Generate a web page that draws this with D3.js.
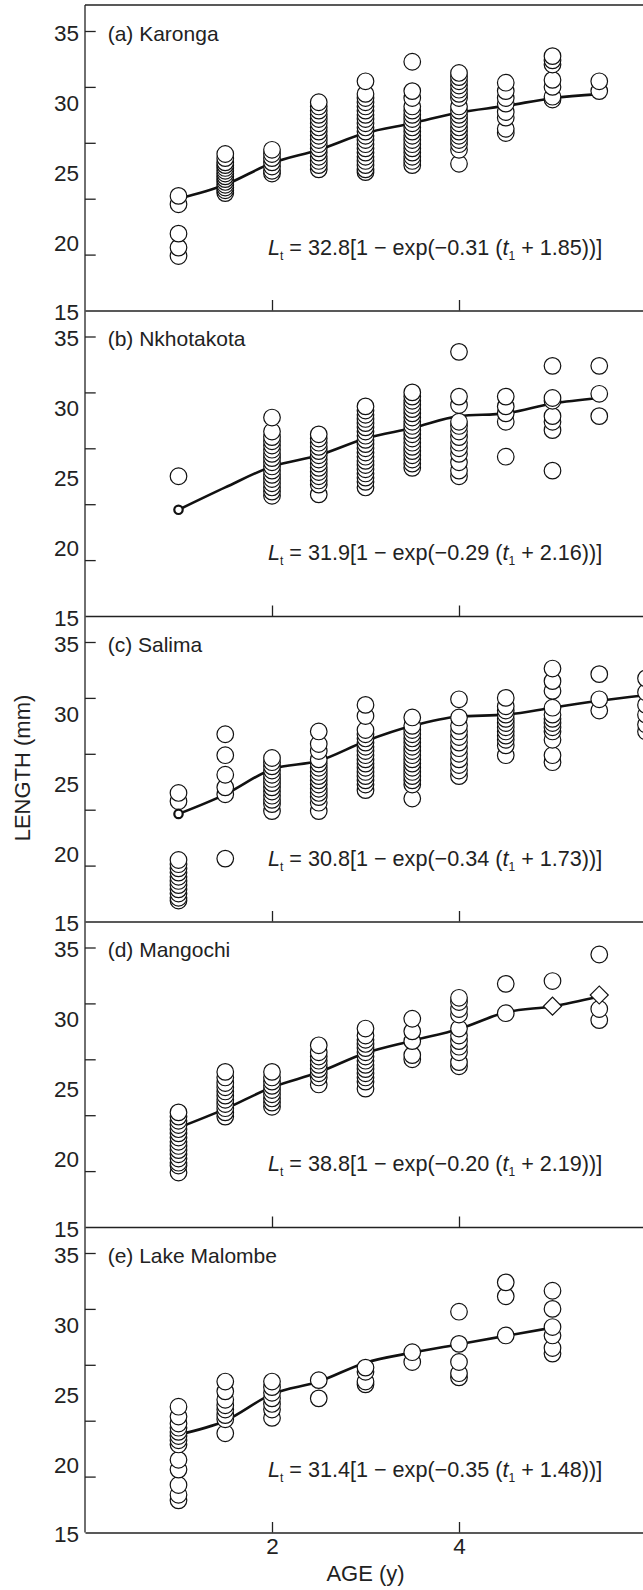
<!DOCTYPE html>
<html>
<head>
<meta charset="utf-8">
<script src="https://cdn.jsdelivr.net/npm/d3@7/dist/d3.min.js"></script>
<style>
  body { margin: 0; background: #fff; }
  svg { display: block; font-family: "Liberation Sans", Arial, Helvetica, sans-serif; }
  text { white-space: pre; }
</style>
</head>
<body>
<svg id="chart"></svg>
<script>
// ages (y) of the sampled columns, shared by all panels
const ages = [1, 1.5, 2, 2.5, 3, 3.5, 4, 4.5, 5, 5.5, 6];

const lakeTitles = ['(a) Karonga', '(b) Nkhotakota', '(c) Salima', '(d) Mangochi', '(e) Lake Malombe'];

// von Bertalanffy parameters printed in each panel: Linf, K, t0
const vbLinf = ['32.8', '31.9', '30.8', '38.8', '31.4'];
const vbK = ['0.31', '0.29', '0.34', '0.20', '0.35'];
const vbT0 = ['1.85', '2.16', '1.73', '2.19', '1.48'];

// individual lengths (mm), one list per age column
const karongaLengths = [
  [23.2, 22.6, 20.5, 19.5, 18.9],
  [26.2, 25.9, 25.6, 25.4, 25.2, 25.0, 24.8, 24.6, 24.4, 24.2, 24.0, 23.8, 23.6, 23.4],
  [26.5, 26.2, 25.9, 25.6, 25.3, 25.0, 24.8],
  [29.9, 29.6, 29.3, 29.0, 28.7, 28.4, 28.1, 27.8, 27.5, 27.2, 26.9, 26.6, 26.3, 26.0, 25.7, 25.4, 25.1],
  [31.4, 30.5, 30.2, 29.9, 29.6, 29.3, 29.0, 28.7, 28.4, 28.1, 27.8, 27.5, 27.2, 26.9, 26.6, 26.3, 26.0, 25.7, 25.4, 25.1, 24.9],
  [32.8, 30.7, 30.2, 29.6, 29.3, 29.0, 28.7, 28.4, 28.1, 27.8, 27.5, 27.2, 26.9, 26.6, 26.3, 26.0, 25.7, 25.4],
  [32.0, 31.7, 31.4, 31.1, 30.8, 30.5, 30.2, 29.6, 29.3, 29.0, 28.7, 28.4, 28.1, 27.8, 27.5, 27.2, 26.9, 26.5, 25.5],
  [31.3, 30.7, 30.2, 29.8, 29.2, 28.8, 28.0, 27.7],
  [33.2, 32.9, 32.6, 31.5, 31.0, 30.3, 30.1],
  [31.4, 30.7],
  []
];
const nkhotakotaLengths = [
  [25.0],
  [],
  [29.2, 28.2, 27.8, 27.5, 27.2, 26.9, 26.6, 26.3, 26.0, 25.7, 25.4, 25.1, 24.8, 24.5, 24.2, 23.9, 23.6],
  [28.0, 27.7, 27.4, 27.1, 26.8, 26.5, 26.2, 25.9, 25.6, 25.3, 25.0, 24.7, 24.4, 23.7],
  [30.0, 29.7, 29.4, 29.1, 28.8, 28.5, 28.2, 27.9, 27.6, 27.3, 27.0, 26.7, 26.4, 26.1, 25.8, 25.5, 25.2, 24.9, 24.6, 24.2],
  [31.0, 30.7, 30.4, 30.1, 29.8, 29.5, 29.2, 28.9, 28.6, 28.3, 28.0, 27.7, 27.4, 27.1, 26.8, 26.5, 26.2, 25.9, 25.6],
  [33.9, 30.7, 30.1, 28.9, 28.6, 28.2, 27.8, 27.4, 27.0, 26.6, 26.0, 25.4, 25.0],
  [30.7, 30.0, 29.5, 28.9, 26.4],
  [32.9, 30.6, 30.4, 29.3, 28.9, 28.3, 25.4],
  [32.9, 30.9, 29.3],
  []
];
const salimaLengths = [
  [24.2, 23.6, 19.4, 19.1, 18.8, 18.5, 18.2, 17.9, 17.6, 17.3, 17.0, 16.7, 16.5],
  [28.4, 26.9, 25.5, 24.6, 24.1, 19.5],
  [26.7, 26.4, 26.1, 25.8, 25.5, 25.2, 24.9, 24.6, 24.3, 24.0, 23.7, 23.4, 22.9],
  [28.6, 27.7, 27.2, 26.6, 26.3, 26.0, 25.7, 25.4, 25.1, 24.8, 24.5, 24.2, 23.9, 23.5, 22.9],
  [30.5, 29.7, 28.7, 28.4, 28.1, 27.8, 27.5, 27.2, 26.9, 26.6, 26.3, 26.0, 25.7, 25.4, 25.1, 24.8, 24.4],
  [29.6, 29.0, 28.7, 28.4, 28.1, 27.8, 27.5, 27.2, 26.9, 26.6, 26.3, 26.0, 25.7, 25.4, 25.1, 24.8, 23.8],
  [30.9, 29.6, 29.0, 28.6, 28.2, 27.8, 27.4, 27.0, 26.6, 26.2, 25.8, 25.4],
  [31.0, 30.4, 30.1, 29.8, 29.5, 29.2, 28.9, 28.6, 28.3, 28.0, 27.6, 26.9],
  [33.1, 32.2, 31.5, 30.3, 29.8, 29.5, 29.2, 28.9, 28.6, 28.0, 26.9, 26.4],
  [32.7, 30.9, 30.1],
  [32.4, 31.4, 30.5, 29.8, 29.1, 28.6]
];
const mangochiLengths = [
  [23.2, 22.9, 22.6, 22.3, 22.0, 21.7, 21.4, 21.1, 20.8, 20.5, 20.2, 19.9, 19.6, 19.4, 18.9],
  [26.1, 25.7, 25.3, 25.0, 24.7, 24.4, 24.1, 23.8, 23.5, 23.2, 22.9],
  [26.1, 25.7, 25.4, 25.1, 24.8, 24.5, 24.2, 23.9, 23.6],
  [28.0, 27.5, 27.2, 26.9, 26.6, 26.3, 26.0, 25.7, 25.2],
  [29.2, 28.7, 28.4, 28.1, 27.8, 27.5, 27.2, 26.9, 26.6, 26.3, 26.0, 25.7, 25.4, 24.9],
  [29.9, 29.0, 28.3, 27.3, 27.0],
  [31.4, 31.1, 30.6, 30.2, 29.2, 28.7, 28.3, 27.9, 27.5, 26.8, 26.5],
  [32.4, 30.3],
  [32.6],
  [34.5, 30.6, 29.8],
  []
];
const malombeLengths = [
  [24.0, 23.3, 22.8, 22.5, 22.2, 21.9, 21.6, 21.3, 20.2, 19.5, 18.4, 17.7, 17.3],
  [25.8, 25.1, 24.5, 24.1, 23.8, 23.4, 23.1, 22.1],
  [25.8, 25.4, 25.0, 24.6, 24.2, 23.8, 23.2],
  [25.9, 24.6],
  [26.8, 26.5, 25.8, 25.6],
  [27.9, 27.2],
  [30.8, 28.5, 27.2, 26.4, 26.1],
  [32.9, 31.9, 29.1],
  [32.3, 31.0, 29.7, 29.1, 28.2, 27.8],
  [],
  []
];

// mean length at age, drawn as the growth line
const karongaMean = [23.0, 24.0, 25.55, 26.5, 27.7, 28.4, 29.17, 29.64, 30.19, 30.48];
const nkhotakotaMean = [22.6, 24.2, 25.7, 26.5, 27.7, 28.45, 29.3, 29.5, 30.2, 30.6];
const salimaMean = [22.7, 24.1, 25.9, 26.5, 27.9, 29.0, 29.67, 29.8, 30.3, 30.8, 31.2];
const mangochiMean = [22.1, 23.45, 25.0, 26.07, 27.45, 28.33, 29.17, 30.36, 30.8, 31.5];
const malombeMean = [22.0, 23.0, 24.9, 25.8, 27.15, 27.87, 28.47, 29.07, 29.66];

// back-calculated points shown with other symbols
const ringPoints = [[], [[1, 22.6]], [[1, 22.7]], [], []];
const diamondPoints = [[], [], [], [[5, 30.8], [5.5, 31.6]], []];

// axis ticks and labels
const xTicks = [2, 4];
const yTickMarks = [19, 23, 27, 31, 35];
const yTickLabels = [15, 20, 25, 30, 35];

const allLengths = [karongaLengths, nkhotakotaLengths, salimaLengths, mangochiLengths, malombeLengths];
const allMeans = [karongaMean, nkhotakotaMean, salimaMean, mangochiMean, malombeMean];

const dim = {
  width: 643,
  height: 1590,
  left: 85,
  top: 5,
  panelHeight: 305.5,
  innerTop: 26,       // distance from panel top to the 35 mm level
  fontSize: 21,
  tickFontSize: 22.5,
  radius: 8.3
};

const svg = d3.select('#chart')
  .attr('width', dim.width)
  .attr('height', dim.height);

const x = d3.scaleLinear().domain([0, 6]).range([dim.left, 646]);

lakeTitles.forEach((title, i) => drawPanel(i));

// left axis line through all panels, and top border of the first panel
svg.append('line')
  .attr('x1', dim.left).attr('x2', dim.left)
  .attr('y1', dim.top).attr('y2', dim.top + 5 * dim.panelHeight)
  .attr('stroke', '#222').attr('stroke-width', 1.3);
svg.append('line')
  .attr('x1', dim.left).attr('x2', dim.width)
  .attr('y1', dim.top).attr('y2', dim.top)
  .attr('stroke', '#222').attr('stroke-width', 1.3);

// axis titles
svg.append('text')
  .attr('x', x(3.0))
  .attr('y', 1581)
  .attr('text-anchor', 'middle')
  .attr('font-size', 22)
  .attr('fill', '#222')
  .text('AGE (y)');

svg.append('text')
  .attr('transform', 'translate(30,768) rotate(-90)')
  .attr('text-anchor', 'middle')
  .attr('font-size', 22)
  .attr('fill', '#222')
  .text('LENGTH (mm)');

function drawPanel(i) {
  const top = dim.top + i * dim.panelHeight;
  const bottom = top + dim.panelHeight;
  const y = d3.scaleLinear().domain([15, 35]).range([bottom, top + dim.innerTop]);
  const g = svg.append('g');
  const last = i === lakeTitles.length - 1;

  // y tick marks (every 4 mm, pointing inward) and labels (every 5 mm)
  const yMarks = g.append('g')
    .attr('transform', `translate(${dim.left},0)`)
    .call(d3.axisLeft(y).tickValues(yTickMarks).tickSize(-10.7).tickFormat(''));
  yMarks.select('.domain').remove();
  yMarks.selectAll('line').attr('stroke', '#222').attr('stroke-width', 1.3);

  const yLabels = g.append('g')
    .attr('transform', `translate(${dim.left},0)`)
    .call(d3.axisLeft(y).tickValues(yTickLabels).tickSize(0).tickPadding(6));
  yLabels.select('.domain').remove();
  yLabels.selectAll('text')
    .attr('font-size', dim.tickFontSize)
    .attr('font-family', null)
    .attr('fill', '#222')
    .attr('dy', '0.42em');

  // x axis at the bottom of the panel, ticks pointing up
  const xAxis = g.append('g')
    .attr('transform', `translate(0,${bottom})`)
    .call(d3.axisBottom(x).tickValues(xTicks).tickSize(-10.5).tickSizeOuter(0)
      .tickPadding(6).tickFormat(last ? d3.format('d') : ''));
  xAxis.select('.domain').attr('stroke', '#222').attr('stroke-width', 1.3);
  xAxis.selectAll('line').attr('stroke', '#222').attr('stroke-width', 1.3);
  xAxis.selectAll('text')
    .attr('font-size', dim.tickFontSize)
    .attr('font-family', null)
    .attr('fill', '#222');

  // growth line
  const mean = allMeans[i].map((v, k) => [ages[k], v]);
  const line = d3.line()
    .x(d => x(d[0]))
    .y(d => y(d[1]))
    .curve(d3.curveMonotoneX);
  g.append('path')
    .datum(mean)
    .attr('d', line)
    .attr('fill', 'none')
    .attr('stroke', '#111')
    .attr('stroke-width', 2.6)
    .attr('stroke-linejoin', 'round');

  // individual fish, lowest first so the upper circles sit on top
  const points = [];
  allLengths[i].forEach((col, k) => {
    col.slice().sort((a, b) => a - b).forEach(v => points.push([ages[k], v]));
  });
  g.selectAll('circle.fish')
    .data(points)
    .join('circle')
    .attr('class', 'fish')
    .attr('cx', d => x(d[0]))
    .attr('cy', d => y(d[1]))
    .attr('r', dim.radius)
    .attr('fill', '#fff')
    .attr('stroke', '#111')
    .attr('stroke-width', 1.2);

  g.selectAll('circle.ring')
    .data(ringPoints[i])
    .join('circle')
    .attr('class', 'ring')
    .attr('cx', d => x(d[0]))
    .attr('cy', d => y(d[1]))
    .attr('r', 4.2)
    .attr('fill', '#fff')
    .attr('stroke', '#111')
    .attr('stroke-width', 2.2);

  const diamond = d3.symbol().type(d3.symbolSquare).size(162);
  g.selectAll('path.diamond')
    .data(diamondPoints[i])
    .join('path')
    .attr('class', 'diamond')
    .attr('d', diamond)
    .attr('transform', d => `translate(${x(d[0])},${y(d[1])}) rotate(45)`)
    .attr('fill', '#fff')
    .attr('stroke', '#111')
    .attr('stroke-width', 1.2);

  // panel title
  g.append('text')
    .attr('x', 107.7)
    .attr('y', top + 35.5)
    .attr('font-size', dim.fontSize)
    .attr('fill', '#222')
    .text(lakeTitles[i]);

  // growth equation with subscripts
  const eq = g.append('text')
    .attr('x', 268)
    .attr('y', top + 249.5)
    .attr('font-size', 21.6)
    .attr('fill', '#222');
  eq.append('tspan').attr('font-style', 'italic').text('L');
  eq.append('tspan').attr('font-size', 12).attr('dy', 5).text('t');
  eq.append('tspan').attr('dy', -5)
    .text(` = ${vbLinf[i]}[1 \u2212 exp(\u2212${vbK[i]} (`);
  eq.append('tspan').attr('font-style', 'italic').text('t');
  eq.append('tspan').attr('font-size', 12).attr('dy', 5).text('1');
  eq.append('tspan').attr('dy', -5).text(` + ${vbT0[i]}))]`);
}
</script>
</body>
</html>
